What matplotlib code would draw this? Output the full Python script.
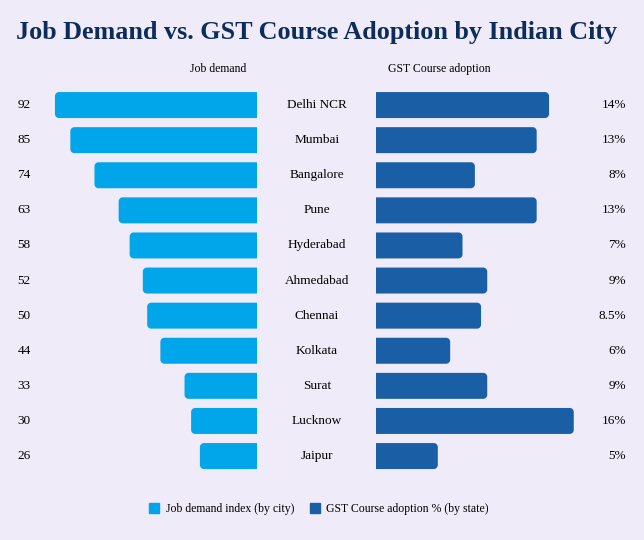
import matplotlib.pyplot as plt
from matplotlib.patches import PathPatch
from matplotlib.path import Path
from matplotlib.lines import Line2D
from matplotlib.transforms import blended_transform_factory

# data
cities = ["Delhi NCR", "Mumbai", "Bangalore", "Pune", "Hyderabad", "Ahmedabad",
          "Chennai", "Kolkata", "Surat", "Lucknow", "Jaipur"]
job_demand = [92, 85, 74, 63, 58, 52, 50, 44, 33, 30, 26]
gst_adoption = [14, 13, 8, 13, 7, 9, 8.5, 6, 9, 16, 5]
gst_labels = ["14%", "13%", "8%", "13%", "7%", "9%", "8.5%", "6%", "9%", "16%", "5%"]

bg = "#EFEBF8"
c_left = "#00A6E9"
c_right = "#1A5FA6"
title_col = "#0C2D5C"

plt.rcParams['font.family'] = ['Liberation Serif', 'DejaVu Serif']

W, H = 644, 540
fig = plt.figure(figsize=(W / 100, H / 100), dpi=100, facecolor=bg)

top_px, bot_px = 87.5, 473.6
ax_b = 1 - bot_px / H
ax_h = (bot_px - top_px) / H

# left axes: 0 at x=257px, 2.196 px per unit
lx0 = 257 - 2.196 * 100
axl = fig.add_axes([lx0 / W, ax_b, (257 - lx0) / W, ax_h])
# right axes: 0 at x=376px, 12.36 px per unit
axr = fig.add_axes([376 / W, ax_b, 12.36 * 18 / W, ax_h])

n = len(cities)
bh = 0.74
rad_px = 4
for ax in (axl, axr):
    ax.set_facecolor(bg)
    ax.set_ylim(n - 0.5, -0.5)
    ax.axis("off")
axl.set_xlim(100, 0)
axr.set_xlim(0, 18)

row_px = (bot_px - top_px) / n
K = 0.5523


def round_bar(ax, y, val, color, px_per_unit):
    # bar from 0 to val, rounded only at the val end
    rx = rad_px / px_per_unit
    ry = rad_px / row_px
    y0, y1 = y - bh / 2, y + bh / 2
    verts = [(0, y0), (val - rx, y0),
             (val - rx + K * rx, y0), (val, y0 + ry - K * ry), (val, y0 + ry),
             (val, y1 - ry),
             (val, y1 - ry + K * ry), (val - rx + K * rx, y1), (val - rx, y1),
             (0, y1), (0, y0)]
    codes = [Path.MOVETO, Path.LINETO,
             Path.CURVE4, Path.CURVE4, Path.CURVE4,
             Path.LINETO,
             Path.CURVE4, Path.CURVE4, Path.CURVE4,
             Path.LINETO, Path.CLOSEPOLY]
    ax.add_patch(PathPatch(Path(verts, codes), fc=color, ec="none", lw=0))


for i in range(n):
    round_bar(axl, i, job_demand[i], c_left, 2.196)
    round_bar(axr, i, gst_adoption[i], c_right, 12.36)

tl = blended_transform_factory(fig.transFigure, axl.transData)
for i in range(n):
    axl.text(24 / W, i, str(job_demand[i]), transform=tl, ha="center", va="center",
             fontsize=9.5, color="black")
    axl.text(317 / W, i, cities[i], transform=tl, ha="center", va="center",
             fontsize=9.5, color="black")
    axl.text(626 / W, i, gst_labels[i], transform=tl, ha="right", va="center",
             fontsize=9.5, color="black")

fig.text(218 / W, 1 - 69 / H, "Job demand", ha="center", va="center", fontsize=8.5, color="black")
fig.text(439 / W, 1 - 69 / H, "GST Course adoption", ha="center", va="center", fontsize=8.5, color="black")

fig.text(317 / W, 1 - 33 / H, "Job Demand vs. GST Course Adoption by Indian City",
         ha="center", va="center", fontsize=18.8, fontweight="bold", color=title_col)

handles = [Line2D([], [], marker="s", ls="none", ms=7, color=c_left),
           Line2D([], [], marker="s", ls="none", ms=7, color=c_right)]
fig.legend(handles, ["Job demand index (by city)", "GST Course adoption % (by state)"],
           loc="center", bbox_to_anchor=(317 / W, 1 - 509 / H), ncol=2, frameon=False,
           fontsize=8.5, handletextpad=0.2, columnspacing=1.0, handlelength=1.5)

fig.savefig("out.png", dpi=100, facecolor=bg)
